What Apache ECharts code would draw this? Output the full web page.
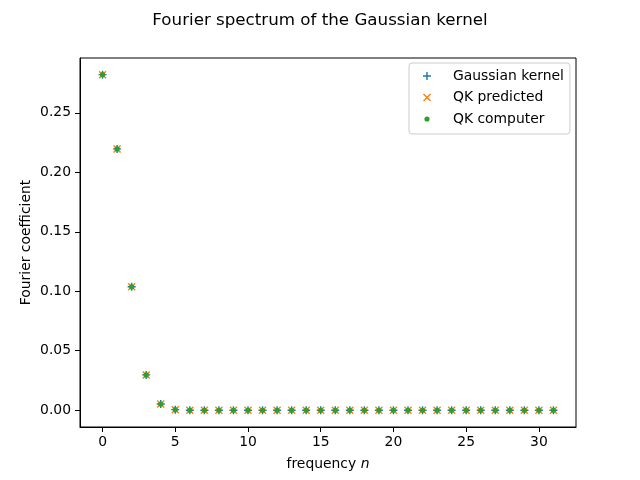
<!DOCTYPE html>
<html><head><meta charset="utf-8">
<script src="https://cdn.jsdelivr.net/npm/echarts@6/dist/echarts.min.js"></script>
<style>html,body{margin:0;padding:0;background:#fff}#c{width:640px;height:480px}</style>
</head><body><div id="c"></div>
<script>
const frequencies = [0,1,2,3,4,5,6,7,8,9,10,11,12,13,14,15,16,17,18,19,20,21,22,23,24,25,26,27,28,29,30,31];
const gaussianKernel = [0.2821,0.2197,0.1038,0.0297,0.0052,0.0005,0,0,0,0,0,0,0,0,0,0,0,0,0,0,0,0,0,0,0,0,0,0,0,0,0,0];
const qkPredicted    = [0.2821,0.2197,0.1038,0.0297,0.0052,0.0005,0,0,0,0,0,0,0,0,0,0,0,0,0,0,0,0,0,0,0,0,0,0,0,0,0,0];
const qkComputer     = [0.2821,0.2197,0.1038,0.0297,0.0052,0.0005,0,0,0,0,0,0,0,0,0,0,0,0,0,0,0,0,0,0,0,0,0,0,0,0,0,0];
const xTicks = [0,5,10,15,20,25,30];
const yTicks = [0,0.05,0.10,0.15,0.20,0.25];

const FONT = 'DejaVu Sans';
const anchor = 'M0,0h0.01v0.01h-0.01Z M9.99,9.99h0.01v0.01h-0.01Z ';
const plusPath = 'path://' + anchor + 'M4.3,1H5.7V9H4.3Z M1,4.3H9V5.7H1Z';
const crossPath = 'path://' + anchor + 'M1,2L2,1L9,8L8,9Z M8,1L9,2L2,9L1,8Z';
const dotPath = 'path://' + anchor + 'M2.4,5A2.6,2.6 0 1,0 7.6,5A2.6,2.6 0 1,0 2.4,5Z';
const pairs = a => frequencies.map((f,i)=>[f,a[i]]);

const chart = echarts.init(document.getElementById('c'), null, {renderer:'canvas'});
chart.setOption({
  animation:false,
  backgroundColor:'#fff',
  title:{text:'Fourier spectrum of the Gaussian kernel', left:'center', top:7,
    textStyle:{fontFamily:FONT, fontSize:16.7, fontWeight:'normal', color:'#000'}},
  grid:{left:80, right:64, top:58, bottom:53, show:true, borderColor:'#000', borderWidth:1, backgroundColor:'transparent'},
  legend:{
    orient:'vertical', left:409, top:63,
    padding:[6,6,8,13], itemGap:7.5, itemWidth:10, itemHeight:10,
    borderColor:'#cccccc', borderWidth:1, borderRadius:3, backgroundColor:'#fff',
    textStyle:{fontFamily:FONT, fontSize:13.9, color:'#000', padding:[0,0,0,16]},
    data:['Gaussian kernel','QK predicted','QK computer']
  },
  xAxis:{type:'value', min:-1.55, max:32.55,
    name:'frequency {i|n}', nameLocation:'middle', nameGap:30, nameMoveOverlap:false,
    nameTextStyle:{fontFamily:FONT, fontSize:13.9, color:'#000', rich:{i:{fontFamily:FONT, fontStyle:'italic', fontSize:13.9, color:'#000'}}},
    axisLine:{show:true, onZero:false, lineStyle:{color:'#000', width:1}},
    axisTick:{show:true, length:5, inside:false, customValues:xTicks, lineStyle:{color:'#000'}},
    axisLabel:{customValues:xTicks, margin:8, fontFamily:FONT, fontSize:13.9, color:'#000'},
    splitLine:{show:false}},
  yAxis:{type:'value', min:-0.0141, max:0.2961,
    name:'Fourier coefficient', nameLocation:'middle', nameGap:47, nameRotate:90, nameMoveOverlap:false,
    nameTextStyle:{fontFamily:FONT, fontSize:13.9, color:'#000'},
    axisLine:{show:true, onZero:false, lineStyle:{color:'#000', width:1}},
    axisTick:{show:true, length:5, inside:false, customValues:yTicks, lineStyle:{color:'#000'}},
    axisLabel:{customValues:yTicks, margin:9, fontFamily:FONT, fontSize:13.9, color:'#000', formatter:v=>v.toFixed(2)},
    splitLine:{show:false}},
  series:[
    {name:'Gaussian kernel', type:'scatter', data:pairs(gaussianKernel), symbol:plusPath, symbolSize:10, itemStyle:{color:'#1f77b4', opacity:1}, z:2},
    {name:'QK predicted', type:'scatter', data:pairs(qkPredicted), symbol:crossPath, symbolSize:10, itemStyle:{color:'#ff7f0e', opacity:1}, z:3},
    {name:'QK computer', type:'scatter', data:pairs(qkComputer), symbol:dotPath, symbolSize:10, itemStyle:{color:'#2ca02c', opacity:1}, z:4}
  ]
});
</script></body></html>
